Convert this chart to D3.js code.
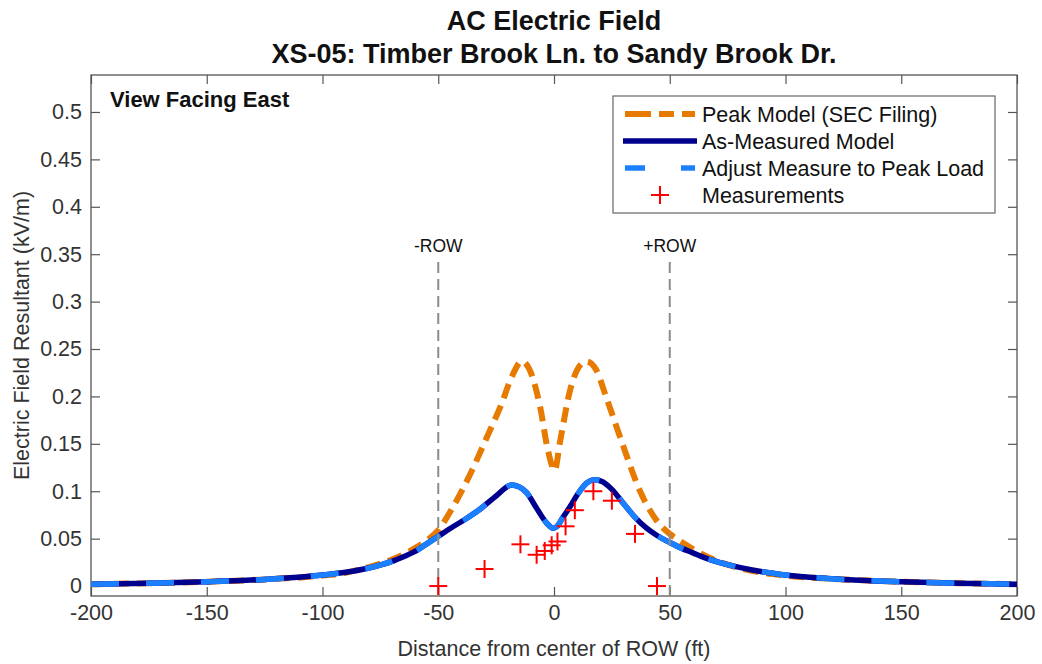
<!DOCTYPE html>
<html>
<head>
<meta charset="utf-8">
<script src="https://cdn.jsdelivr.net/npm/d3@7"></script>
<style>
  body { margin: 0; background: #fff; }
  svg { font-family: 'Liberation Sans', Arial, Helvetica, sans-serif; }
  .tick text { fill: #333; font-size: 21.5px; }
</style>
</head>
<body>
<div id="wrapper"></div>
<script>
// data
const peakX = [-200, -175, -150, -125, -100, -90, -80, -70, -60, -55, -50, -43.5, -36, -29, -23, -18, -14, -10, -6, -2.6, 0.3, 2.6, 7, 10, 14, 18, 23, 30, 37, 46, 50, 56, 60, 70, 80, 90, 100, 125, 150, 175, 200]
const peakY = [0.002, 0.003, 0.0045, 0.007, 0.011, 0.014, 0.02, 0.028, 0.04, 0.048, 0.059, 0.084, 0.119, 0.157, 0.19, 0.222, 0.237, 0.225, 0.189, 0.143, 0.122, 0.152, 0.207, 0.228, 0.237, 0.229, 0.196, 0.147, 0.101, 0.064, 0.055, 0.045, 0.039, 0.027, 0.019, 0.014, 0.011, 0.007, 0.0045, 0.003, 0.002]

const measX = [-200, -175, -150, -125, -100, -90, -80, -70, -65, -60, -55, -50, -44, -38, -32, -25, -18.3, -12, -7.5, -3, -0.4, 1.2, 4, 6.9, 10, 13, 17.5, 21, 25, 30, 35, 40, 45, 50, 55, 60, 65, 75, 90, 100, 125, 150, 175, 200]
const measY = [0.002, 0.003, 0.0045, 0.007, 0.0116, 0.0145, 0.019, 0.026, 0.031, 0.0365, 0.0445, 0.0525, 0.062, 0.071, 0.081, 0.095, 0.1065, 0.099, 0.082, 0.066, 0.061, 0.0626, 0.073, 0.0837, 0.096, 0.106, 0.112, 0.11, 0.102, 0.087, 0.0725, 0.061, 0.0525, 0.046, 0.04, 0.035, 0.03, 0.0225, 0.015, 0.0116, 0.007, 0.0045, 0.003, 0.002]

const pointsX = [-50, -30, -14.5, -7.5, -4, -1, 1.5, 5, 9, 17, 25, 35, 44.5]
const pointsY = [0, 0.018, 0.044, 0.033, 0.037, 0.043, 0.047, 0.063, 0.08, 0.1, 0.09, 0.055, 0]

const xTicks = [-200, -150, -100, -50, 0, 50, 100, 150, 200]
const yTicks = [0, 0.05, 0.1, 0.15, 0.2, 0.25, 0.3, 0.35, 0.4, 0.45, 0.5]
const rowX = [-50, 50]
const rowLabels = ['-ROW', '+ROW']

const legendItems = [
  { label: 'Peak Model (SEC Filing)', kind: 'peak' },
  { label: 'As-Measured Model', kind: 'navy' },
  { label: 'Adjust Measure to Peak Load', kind: 'light' },
  { label: 'Measurements', kind: 'plus' },
]

const orange = '#E77A00'
const navy = '#00008F'
const lightBlue = '#1A80FF'

// dimensions
let dimensions = {
  width: 1042,
  height: 664,
  margin: { top: 75, right: 25, bottom: 68, left: 91 },
}
dimensions.boundedWidth = dimensions.width - dimensions.margin.left - dimensions.margin.right
dimensions.boundedHeight = dimensions.height - dimensions.margin.top - dimensions.margin.bottom

const svg = d3.select('#wrapper').append('svg')
  .attr('width', dimensions.width)
  .attr('height', dimensions.height)

const bounds = svg.append('g')
  .attr('transform', `translate(${dimensions.margin.left},${dimensions.margin.top})`)

const xScale = d3.scaleLinear().domain([-200, 200]).range([0, dimensions.boundedWidth])
const yScale = d3.scaleLinear().domain([-0.0105, 0.539]).range([dimensions.boundedHeight, 0])

// axes (MATLAB style box with inward ticks)
const axisColor = '#555'
const tickLen = 9
const plain = (d) => String(+d.toFixed(2))
const xAxis = bounds.append('g')
  .attr('transform', `translate(0,${dimensions.boundedHeight})`)
  .call(d3.axisBottom(xScale).tickValues(xTicks).tickSizeInner(-tickLen).tickSizeOuter(0).tickPadding(9).tickFormat(plain))
const xTop = bounds.append('g')
  .call(d3.axisTop(xScale).tickValues(xTicks).tickSizeInner(-tickLen).tickSizeOuter(0).tickFormat(''))
const yAxis = bounds.append('g')
  .call(d3.axisLeft(yScale).tickValues(yTicks).tickSizeInner(-tickLen).tickSizeOuter(0).tickPadding(9).tickFormat(plain))
const yRight = bounds.append('g')
  .attr('transform', `translate(${dimensions.boundedWidth},0)`)
  .call(d3.axisRight(yScale).tickValues(yTicks).tickSizeInner(-tickLen).tickSizeOuter(0).tickFormat(''))

;[xAxis, xTop, yAxis, yRight].forEach((g) => {
  g.select('.domain').remove()
  g.selectAll('line').attr('stroke', axisColor).attr('stroke-width', 1.2)
})

bounds.append('rect')
  .attr('width', dimensions.boundedWidth)
  .attr('height', dimensions.boundedHeight)
  .attr('fill', 'none')
  .attr('stroke', axisColor)
  .attr('stroke-width', 1.3)

// lines
const line = (xs, ys) => d3.line()
  .x((d, i) => xScale(xs[i]))
  .y((d, i) => yScale(ys[i]))
  .curve(d3.curveMonotoneX)(xs)

bounds.append('path')
  .attr('d', line(peakX, peakY))
  .attr('fill', 'none')
  .attr('stroke', orange)
  .attr('stroke-width', 6)
  .attr('stroke-dasharray', '15,8')

bounds.append('path')
  .attr('d', line(measX, measY))
  .attr('fill', 'none')
  .attr('stroke', navy)
  .attr('stroke-width', 5.5)

bounds.append('path')
  .attr('d', line(measX, measY))
  .attr('fill', 'none')
  .attr('stroke', lightBlue)
  .attr('stroke-width', 5.5)
  .attr('stroke-dasharray', '28,27')

// ROW markers
bounds.selectAll('.row-line')
  .data(rowX)
  .enter()
  .append('line')
  .attr('class', 'row-line')
  .attr('x1', (d) => xScale(d))
  .attr('x2', (d) => xScale(d))
  .attr('y1', 187)
  .attr('y2', dimensions.boundedHeight)
  .attr('stroke', '#8c8c8c')
  .attr('stroke-width', 2)
  .attr('stroke-dasharray', '11,6')

bounds.selectAll('.row-label')
  .data(rowX)
  .enter()
  .append('text')
  .attr('class', 'row-label')
  .attr('x', (d) => xScale(d))
  .attr('y', 177)
  .attr('text-anchor', 'middle')
  .style('font-size', '17.5px')
  .style('fill', '#111')
  .text((d, i) => rowLabels[i])

// measurements
const plus = (g, size) => {
  g.append('line').attr('x1', -size).attr('x2', size).attr('y1', 0).attr('y2', 0)
  g.append('line').attr('x1', 0).attr('x2', 0).attr('y1', -size).attr('y2', size)
  g.selectAll('line').attr('stroke', '#FF0000').attr('stroke-width', 2)
}
pointsX.forEach((x, i) => {
  const g = bounds.append('g')
    .attr('transform', `translate(${xScale(x)},${yScale(pointsY[i])})`)
  plus(g, 9)
})

// legend
const legend = svg.append('g').attr('transform', 'translate(613,96)')
legend.append('rect')
  .attr('width', 382)
  .attr('height', 117)
  .attr('fill', '#fff')
  .attr('stroke', '#666')
  .attr('stroke-width', 1.2)

legendItems.forEach((item, i) => {
  const y = 18 + i * 27
  const row = legend.append('g').attr('transform', `translate(0,${y})`)
  if (item.kind === 'peak') {
    row.append('line').attr('x1', 12).attr('x2', 82).attr('stroke', orange)
      .attr('stroke-width', 6).attr('stroke-dasharray', '26,8,15,8,15')
  } else if (item.kind === 'navy') {
    row.append('line').attr('x1', 10).attr('x2', 84).attr('stroke', navy).attr('stroke-width', 5.5)
  } else if (item.kind === 'light') {
    row.append('line').attr('x1', 12).attr('x2', 82).attr('stroke', lightBlue)
      .attr('stroke-width', 5.5).attr('stroke-dasharray', '20,36,14')
  } else {
    const g = row.append('g').attr('transform', 'translate(47,0)')
    plus(g, 9)
  }
  row.append('text')
    .attr('x', 89)
    .attr('dy', '0.36em')
    .style('font-size', '21.5px')
    .style('fill', '#111')
    .text(item.label)
})

// annotations and titles
svg.append('text')
  .attr('x', 110).attr('y', 107)
  .style('font-size', '22px').style('font-weight', 'bold').style('fill', '#111')
  .text('View Facing East')

const cx = dimensions.margin.left + dimensions.boundedWidth / 2
svg.append('text')
  .attr('x', cx).attr('y', 30)
  .attr('text-anchor', 'middle')
  .style('font-size', '27px').style('font-weight', 'bold').style('fill', '#111')
  .text('AC Electric Field')
svg.append('text')
  .attr('x', cx).attr('y', 63)
  .attr('text-anchor', 'middle')
  .style('font-size', '27px').style('font-weight', 'bold').style('fill', '#111')
  .text('XS-05: Timber Brook Ln. to Sandy Brook Dr.')

svg.append('text')
  .attr('x', cx).attr('y', 656)
  .attr('text-anchor', 'middle')
  .style('font-size', '21.5px').style('fill', '#333')
  .text('Distance from center of ROW (ft)')

svg.append('text')
  .attr('transform', `translate(29,${dimensions.margin.top + dimensions.boundedHeight / 2}) rotate(-90)`)
  .attr('text-anchor', 'middle')
  .style('font-size', '21.5px').style('fill', '#333')
  .text('Electric Field Resultant (kV/m)')
</script>
</body>
</html>
